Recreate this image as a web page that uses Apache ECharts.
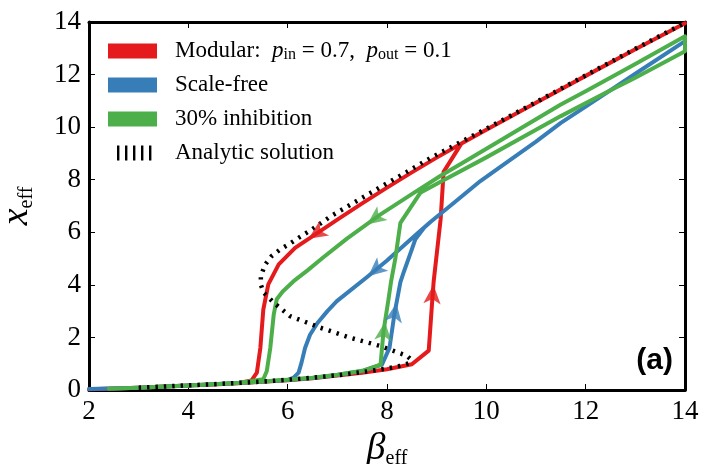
<!DOCTYPE html>
<html>
<head>
<meta charset="utf-8">
<script src="https://cdn.jsdelivr.net/npm/echarts@6/dist/echarts.min.js"></script>
<style>
  html, body { margin: 0; padding: 0; background: #fff; }
  #chart { width: 701px; height: 464px; }
</style>
</head>
<body>
<div id="chart"></div>
<script>
// Hysteresis loops of the effective state x_eff against beta_eff.
// Each path is given as [beta_eff, x_eff] pairs: forward sweep (beta rising) and backward sweep.

const modularForward = [
  [2.0, 0.03], [2.5, 0.06], [3, 0.09], [3.5, 0.13], [4, 0.17], [4.5, 0.21], [5, 0.26],
  [5.5, 0.31], [6, 0.37], [6.5, 0.45], [7, 0.55], [7.5, 0.66], [8, 0.79], [8.5, 0.98],
  [8.84, 1.5], [8.91, 3.38], [8.94, 4.14], [9.08, 6.5], [9.14, 8.3], [9.5, 9.38],
  [10, 9.9], [11, 10.93], [12, 11.95], [13, 12.96], [14, 13.95]
];
const modularBackward = [
  [14, 13.95], [13, 12.96], [12, 11.95], [11, 10.93], [10, 9.9], [9.5, 9.38],
  [9.0, 8.84], [8.5, 8.28], [8.0, 7.7], [7.5, 7.1], [7.0, 6.48], [6.46, 5.8], [6.3, 5.6],
  [6.15, 5.41], [5.82, 4.78], [5.61, 4.02], [5.51, 3.07], [5.45, 1.6], [5.38, 0.66],
  [5.27, 0.36], [5, 0.26], [4, 0.17], [3, 0.09], [2, 0.03]
];

const scaleFreeForward = [
  [2, 0.04], [2.5, 0.06], [3, 0.09], [4, 0.17], [5, 0.27], [6, 0.38], [6.5, 0.46],
  [7, 0.57], [7.5, 0.72], [7.9, 0.97], [8.05, 1.6], [8.15, 2.9], [8.27, 4.1],
  [8.34, 4.5], [8.5, 5.35], [8.57, 5.73], [8.75, 6.18], [8.88, 6.4], [9.3, 7.05],
  [9.88, 7.95], [10.29, 8.5], [11, 9.45], [11.5, 10.16], [12, 10.78], [13, 12.03], [14, 13.27]
];
const scaleFreeBackward = [
  [14, 13.27], [13, 12.03], [12, 10.78], [11.5, 10.16], [11, 9.45], [10.29, 8.5],
  [9.88, 7.95], [9.3, 7.05], [8.88, 6.4], [8.61, 5.95], [8, 4.93], [7.6, 4.3],
  [6.99, 3.38], [6.8, 3.0], [6.6, 2.55], [6.45, 2.1], [6.35, 1.6], [6.28, 1.05],
  [6.22, 0.66], [6.12, 0.47], [6, 0.38], [5, 0.27], [4, 0.17], [3, 0.09], [2, 0.04]
];

const inhibitionForward = [
  [2.4, 0.05], [3, 0.09], [3.5, 0.13], [4, 0.17], [4.5, 0.22], [5, 0.27], [5.5, 0.32],
  [6, 0.39], [6.5, 0.47], [7, 0.58], [7.5, 0.73], [7.87, 0.96], [7.93, 2.24],
  [8.03, 3.45], [8.08, 4.1], [8.17, 5.03], [8.27, 6.36], [8.67, 7.5], [9.08, 7.92],
  [10, 8.85], [11, 9.9], [11.5, 10.42], [12.5, 11.4], [13, 11.88], [14, 12.89]
];
const inhibitionBackward = [
  [14, 13.46], [13, 12.4], [12, 11.37], [11.5, 10.86], [11, 10.3], [10.29, 9.5],
  [9.5, 8.62], [9.08, 8.15], [8.5, 7.45], [7.87, 6.68], [7.2, 5.77], [6.72, 5.05],
  [6.4, 4.55], [6.12, 4.14], [5.9, 3.75], [5.78, 3.45], [5.72, 2.88], [5.65, 1.6],
  [5.58, 0.72], [5.51, 0.41], [5, 0.27], [4, 0.17], [3, 0.09], [2.4, 0.05]
];

// Stable low branch, unstable middle branch and stable high branch of the analytic solution.
const analyticCurve = [
  [3, 0.09], [3.5, 0.13], [4, 0.18], [4.5, 0.22], [5, 0.27], [5.5, 0.32], [6, 0.39],
  [6.5, 0.47], [7, 0.56], [7.5, 0.68], [8, 0.82], [8.3, 0.93], [8.45, 1.02], [8.47, 1.18],
  [8.4, 1.3], [7.87, 1.67], [7.26, 1.99], [6.66, 2.37], [6.05, 2.81], [5.72, 3.32],
  [5.52, 3.7], [5.46, 4.0], [5.46, 4.35], [5.55, 4.78], [5.68, 5.1], [5.85, 5.35],
  [6.02, 5.54], [6.22, 5.79], [6.49, 6.11], [6.86, 6.6], [7.4, 7.2], [7.87, 7.72],
  [8.4, 8.3], [8.88, 8.83], [9.55, 9.5], [10, 9.94], [11, 10.95], [12, 11.97],
  [13, 12.98], [14, 13.97]
];

// Direction markers: [beta, x, fromBeta, fromX] - head sits at (beta, x) and points away from (fromBeta, fromX).
const modularArrows = [[8.935, 4.0, 8.91, 3.38], [6.42, 5.75, 7.0, 6.48]];
const scaleFreeArrows = [[8.19, 3.3, 8.12, 2.5], [7.62, 4.33, 8.0, 4.93]];
const inhibitionArrows = [[7.96, 2.6, 7.9, 1.6], [7.6, 6.3, 8.0, 6.86]];

const xTicks = [2, 4, 6, 8, 10, 12, 14];
const yTicks = [0, 2, 4, 6, 8, 10, 12, 14];

const legendNames = ['Modular', 'Scale-free', '30% inhibition', 'Analytic solution'];

const RED = '#e41a1c', BLUE = '#377eb8', GREEN = '#4daf4a';
const SERIF = 'Liberation Serif';

const chart = echarts.init(document.getElementById('chart'), null, { renderer: 'canvas' });

function lineSeries(name, data, color) {
  return {
    name: name, type: 'line', data: data, showSymbol: false, symbol: 'none',
    animation: false, silent: true,
    itemStyle: { color: color },
    lineStyle: { color: color, width: 4, join: 'round', cap: 'round' }
  };
}

function axisCommon(extra) {
  return Object.assign({
    type: 'value',
    axisLine: { show: true, onZero: false, lineStyle: { color: '#000', width: 3 } },
    axisTick: { show: true, inside: true, length: 6, lineStyle: { color: '#000', width: 1 } },
    splitLine: { show: false }
  }, extra);
}

const tickLabel = { fontFamily: SERIF, fontSize: 27, color: '#000' };

const nameRich = {
  b: { fontFamily: SERIF, fontStyle: 'italic', fontSize: 38, lineHeight: 40, color: '#000' },
  s: { fontFamily: SERIF, fontSize: 20, lineHeight: 14, verticalAlign: 'bottom', color: '#000' }
};

const baseOption = {
  animation: false,
  backgroundColor: '#fff',
  grid: { left: 89, right: 16, top: 22, bottom: 74, containLabel: false, outerBoundsMode: 'none' },
  xAxis: [
    axisCommon({
      position: 'bottom', min: xTicks[0], max: xTicks[xTicks.length - 1], interval: 2,
      axisLabel: Object.assign({ margin: 8, formatter: v => String(v) }, tickLabel),
      name: '{b|β}{s|eff}', nameLocation: 'middle', nameGap: 36,
      nameTextStyle: { fontFamily: SERIF, rich: nameRich }
    }),
    axisCommon({
      position: 'top', min: xTicks[0], max: xTicks[xTicks.length - 1], interval: 2,
      axisLabel: { show: false }
    })
  ],
  yAxis: [
    axisCommon({
      position: 'left', min: yTicks[0], max: yTicks[yTicks.length - 1], interval: 2,
      axisLabel: Object.assign({ margin: 8 }, tickLabel),
      name: '{b|x}{s|eff}', nameLocation: 'middle', nameGap: 52, nameRotate: 90,
      nameTextStyle: { fontFamily: SERIF, rich: nameRich }
    }),
    axisCommon({
      position: 'right', min: yTicks[0], max: yTicks[yTicks.length - 1], interval: 2,
      axisLabel: { show: false }
    })
  ],
  legend: {
    left: 108, top: 39, orient: 'vertical', padding: 0,
    itemWidth: 49, itemHeight: 15, itemGap: 10,
    selectedMode: false,
    data: [
      { name: legendNames[0], icon: 'rect' },
      { name: legendNames[1], icon: 'rect' },
      { name: legendNames[2], icon: 'rect' },
      { name: legendNames[3], icon: 'path://M0,0M49,15M9,0h2.4v15h-2.4zM17,0h2.4v15h-2.4zM25,0h2.4v15h-2.4zM33,0h2.4v15h-2.4zM41,0h2.4v15h-2.4z' }
    ],
    formatter: function (name) {
      if (name === legendNames[0]) {
        return 'Modular:  {it|p}{sub|in} = 0.7,  {it|p}{sub|out} = 0.1';
      }
      return name;
    },
    textStyle: {
      fontFamily: SERIF, fontSize: 23, lineHeight: 24, color: '#000', padding: [0, 0, 0, 13],
      rich: {
        it: { fontFamily: SERIF, fontStyle: 'italic', fontSize: 23, lineHeight: 24, color: '#000' },
        sub: { fontFamily: SERIF, fontSize: 16, lineHeight: 10, verticalAlign: 'bottom', color: '#000' }
      }
    }
  },
  graphic: [
    {
      type: 'text', right: 28, top: 346, silent: true,
      style: { text: '(a)', fontFamily: 'Liberation Sans', fontWeight: 'bold', fontSize: 30, fill: '#000' }
    }
  ],
  series: [
    lineSeries(legendNames[0], modularForward.concat(modularBackward), RED),
    lineSeries(legendNames[1], scaleFreeForward.concat(scaleFreeBackward), BLUE),
    lineSeries(legendNames[2], inhibitionForward.concat(inhibitionBackward), GREEN),
    {
      name: legendNames[3], type: 'line', data: analyticCurve, showSymbol: false, symbol: 'none',
      animation: false, silent: true, z: 3,
      itemStyle: { color: '#000' },
      lineStyle: { color: '#000', width: 4.5, type: [2.4, 6] }
    }
  ]
};

chart.setOption(baseOption);

// Arrow heads are rotated to follow the on-screen direction of each path.
function arrowSeries(name, arrows, color) {
  const data = arrows.map(a => {
    const p = chart.convertToPixel({ xAxisIndex: 0, yAxisIndex: 0 }, [a[0], a[1]]);
    const q = chart.convertToPixel({ xAxisIndex: 0, yAxisIndex: 0 }, [a[2], a[3]]);
    const ang = Math.atan2(-(p[1] - q[1]), p[0] - q[0]) * 180 / Math.PI;
    return { value: [a[0], a[1]], symbolRotate: ang - 90 };
  });
  return {
    name: name, type: 'scatter', data: data, symbol: 'arrow', symbolSize: [13, 19],
    animation: false, silent: true, z: 4,
    itemStyle: { color: color }
  };
}

chart.setOption({
  series: baseOption.series.concat([
    arrowSeries('arrowsModular', modularArrows, RED),
    arrowSeries('arrowsScaleFree', scaleFreeArrows, BLUE),
    arrowSeries('arrowsInhibition', inhibitionArrows, GREEN)
  ])
});
</script>
</body>
</html>
